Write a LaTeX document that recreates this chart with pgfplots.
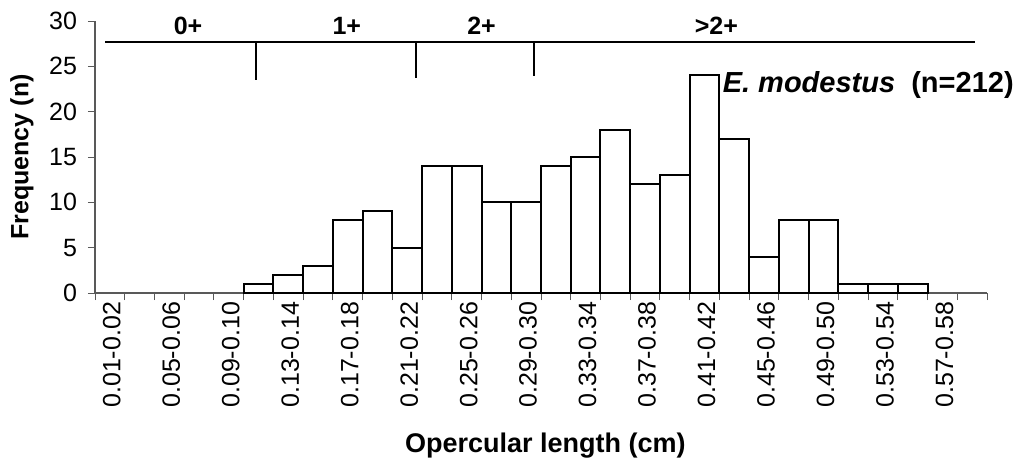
\documentclass[border=0pt]{standalone}
\usepackage{fontspec}
\setmainfont{Liberation Sans}
\usepackage{pgfplots}
\pgfplotsset{compat=1.18}
\begin{document}
\begin{tikzpicture}
\useasboundingbox (0,0) rectangle (511pt,236pt);
\begin{axis}[
  at={(47.5pt,89.5pt)}, anchor=south west,
  scale only axis, width=446pt, height=136pt,
  xmin=0, xmax=30, ymin=0, ymax=30,
  clip=false,
  axis x line=bottom, axis y line=left,
  axis line style={-, draw=gray!70!black, line width=0.6pt},
  tick align=outside,
  major tick length=3.5pt,
  every tick/.style={draw=gray!70!black, line width=0.5pt},
  xtick={0,...,30}, xticklabels={},
  extra x ticks={0.5,2.5,...,28.5},
  extra x tick labels={0.01-0.02,0.05-0.06,0.09-0.10,0.13-0.14,0.17-0.18,0.21-0.22,0.25-0.26,0.29-0.30,0.33-0.34,0.37-0.38,0.41-0.42,0.45-0.46,0.49-0.50,0.53-0.54,0.57-0.58},
  extra x tick style={major tick length=0pt, tick label style={rotate=90, anchor=east, yshift=-1pt, xshift=-1pt}},
  ytick={0,5,...,30},
  yticklabel style={xshift=-2pt},
  /pgf/number format/assume math mode=true,
  tick label style={font=\fontsize{12.5}{13}\selectfont},
  xlabel={Opercular length (cm)},
  ylabel={Frequency (n)},
  xlabel style={font=\bfseries\fontsize{13.5}{15}\selectfont, at={(axis description cs:0.505,-0.56)}, anchor=center},
  ylabel style={font=\bfseries\fontsize{12.5}{14}\selectfont, at={(axis description cs:-0.0818,0.5)}, anchor=center},
]
\addplot[ybar, bar width=1, fill=white, draw=black, line width=1pt] coordinates {
(5.5,1)(6.5,2)(7.5,3)(8.5,8)(9.5,9)(10.5,5)(11.5,14)(12.5,14)(13.5,10)(14.5,10)
(15.5,14)(16.5,15)(17.5,18)(18.5,12)(19.5,13)(20.5,24)(21.5,17)(22.5,4)(23.5,8)(24.5,8)
(25.5,1)(26.5,1)(27.5,1)};
\draw[line width=1pt] (axis cs:0.34,27.7) -- (axis cs:29.6,27.7);
\draw[line width=1pt] (axis cs:5.42,27.7) -- (axis cs:5.42,23.5);
\draw[line width=1pt] (axis cs:10.8,27.7) -- (axis cs:10.8,23.7);
\draw[line width=1pt] (axis cs:14.77,27.7) -- (axis cs:14.77,23.9);
\node[font=\bfseries\fontsize{12.5}{13}\selectfont] at (axis cs:3.13,29.5) {0+};
\node[font=\bfseries\fontsize{12.5}{13}\selectfont] at (axis cs:8.47,29.5) {1+};
\node[font=\bfseries\fontsize{12.5}{13}\selectfont] at (axis cs:13.0,29.5) {2+};
\node[font=\bfseries\fontsize{12.5}{13}\selectfont] at (axis cs:20.9,29.5) {>2+};
\node[anchor=west, inner sep=0pt, font=\bfseries\fontsize{14.5}{16}\selectfont] at (axis cs:21.1,22.9) {\textit{E. modestus}\ \ (n=212)};
\end{axis}
\end{tikzpicture}
\end{document}
